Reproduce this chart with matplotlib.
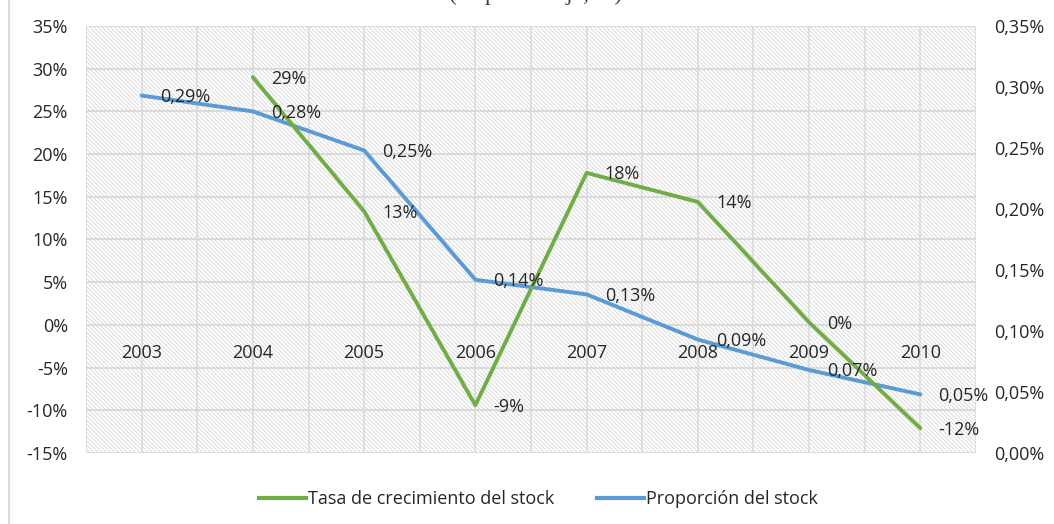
import numpy as np
import matplotlib
matplotlib.use('Agg')
import matplotlib.pyplot as plt
from matplotlib.lines import Line2D

plt.rcParams['font.family'] = ['Open Sans', 'DejaVu Sans']
plt.rcParams['hatch.linewidth'] = 0.6

years = ['2003', '2004', '2005', '2006', '2007', '2008', '2009', '2010']
tasa = [np.nan, 29.0, 13.3, -9.4, 17.8, 14.4, 0.3, -12.1]          # left axis, %
proporcion = [0.293, 0.280, 0.248, 0.142, 0.130, 0.093, 0.068, 0.048]  # right axis, %

left_ticks = [-15, -10, -5, 0, 5, 10, 15, 20, 25, 30, 35]
right_ticks = [0.00, 0.05, 0.10, 0.15, 0.20, 0.25, 0.30, 0.35]

green = '#70AD47'
blue = '#5B9BD5'
grid_c = '#d9d9d9'
txt_c = '#262626'
fs = 13

fig = plt.figure(figsize=(10.54, 5.24), dpi=100)
ax = fig.add_axes([86/1054, 1-453/524, 890/1054, 427/524])
ax2 = ax.twinx()

x = np.arange(len(years))

ax.set_xlim(-0.5, 7.5)
ax.set_ylim(-15, 35)
ax2.set_ylim(0, 0.35)

# ax2 sits at the bottom: hatched background + grid drawn there
ax.set_zorder(ax2.get_zorder() + 1)
ax.patch.set_visible(False)
ax2.set_facecolor('white')
ax2.add_patch(plt.Rectangle((0, 0), 1, 1, transform=ax2.transAxes, facecolor='white',
                            edgecolor='#d6d6d6', lw=0, hatch='\\' * 8, zorder=0))
for gx in np.arange(-0.5, 7.6, 0.5):
    ax2.axvline(gx, color=grid_c, lw=1.1, zorder=1)
for gy in left_ticks:
    ax2.hlines(gy, -0.5, 7.5, transform=ax.transData, color=grid_c, lw=1.3, zorder=1)

for a in (ax, ax2):
    for s in a.spines.values():
        s.set_visible(False)

ax.set_yticks(left_ticks)
ax.set_yticklabels(['%d%%' % v for v in left_ticks])
ax2.set_yticks(right_ticks)
ax2.set_yticklabels([('%.2f%%' % v).replace('.', ',') for v in right_ticks])

ax.spines['bottom'].set_position(('data', 0))
ax.set_xticks(x)
ax.set_xticklabels(years)
ax.tick_params(axis='x', length=0, pad=14, labelsize=fs, labelcolor=txt_c)
ax.tick_params(axis='y', length=0, pad=13, labelsize=fs, labelcolor=txt_c)
ax2.tick_params(axis='y', length=0, pad=13, labelsize=fs, labelcolor=txt_c)

ax2.plot(x, proporcion, color=blue, lw=2.8, solid_capstyle='round', zorder=3)
ax.plot(x, tasa, color=green, lw=2.8, solid_capstyle='round', zorder=3)

for xi, v in zip(x, tasa):
    if np.isnan(v):
        continue
    ax.annotate('%d%%' % round(v), (xi, v), xytext=(13, -1), textcoords='offset points',
                ha='left', va='center', fontsize=fs, color=txt_c, zorder=5)
for xi, v in zip(x, proporcion):
    ax.annotate(('%.2f%%' % v).replace('.', ','), (xi, v), xycoords=ax2.transData,
                xytext=(13, -1), textcoords='offset points', ha='left', va='center',
                fontsize=fs, color=txt_c, zorder=5)

handles = [Line2D([], [], color=green, lw=3.0), Line2D([], [], color=blue, lw=3.0)]
fig.legend(handles, ['Tasa de crecimiento del stock', 'Proporción del stock'],
           loc='center', bbox_to_anchor=(0.511, 1-499/524), ncol=2, frameon=False,
           fontsize=fs, handlelength=2.6, handletextpad=0.1, columnspacing=2.4,
           labelcolor=txt_c)

# cropped title at the top and left border line
fig.text(0.508, 1.0, '(en porcentaje, %)', ha='center', va='baseline',
         family='Liberation Serif', fontsize=17, color='#404040')
fig.add_artist(Line2D([9/1054, 9/1054], [0, 1], transform=fig.transFigure,
                      color='#d9d9d9', lw=1.5))

fig.savefig('out.png', dpi=100)
